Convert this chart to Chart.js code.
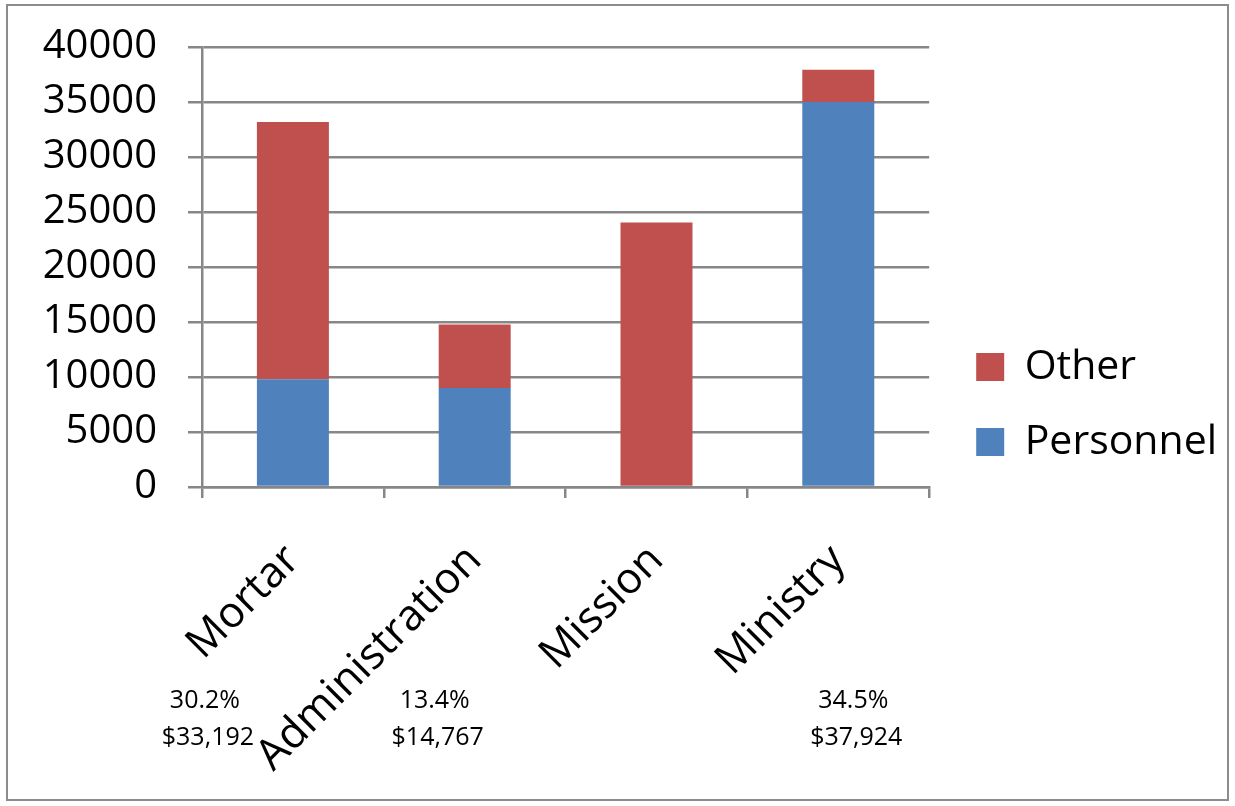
<!DOCTYPE html>
<html>
<head>
<meta charset="utf-8">
<script src="https://cdn.jsdelivr.net/npm/chart.js@4/dist/chart.umd.min.js"></script>
<style>
	body { margin: 0; background: #ffffff; }
	#wrap { width: 1235px; height: 806px; }
</style>
</head>
<body>
<div id="wrap"><canvas id="BudgetBar" width="1235" height="806"></canvas></div>
<script>
// categories and series
var categories = ['Mortar', 'Administration', 'Mission', 'Ministry'];
var personnel = [9800, 9000, 0, 35000];
var other = [23392, 5767, 24037, 2924];
var yTicks = [0, 5000, 10000, 15000, 20000, 25000, 30000, 35000, 40000];

// text notes under the categories
var notePct = ['30.2%', '13.4%', '', '34.5%'];
var noteAmt = ['$33,192', '$14,767', '', '$37,924'];

var gridColor = '#878787';
var fontName = "'Open Sans', 'Noto Sans', sans-serif";

// frame around the whole chart
var framePlugin = {
	id: 'frame',
	beforeDraw: function (chart) {
		var ctx = chart.ctx;
		ctx.save();
		ctx.fillStyle = '#ffffff';
		ctx.fillRect(0, 0, chart.width, chart.height);
		ctx.strokeStyle = '#8c8c8c';
		ctx.lineWidth = 2;
		ctx.strokeRect(7, 5, 1221, 795);
		ctx.restore();
	}
};

// move legend a bit right of the plot and up to the middle
var legendShift = {
	id: 'legendShift',
	afterLayout: function (chart) {
		chart.legend.left += 13;
		chart.legend.right += 13;
		chart.legend.top -= 22;
		chart.legend.bottom -= 22;
	}
};

// percentage and amount text below the labels
var notesPlugin = {
	id: 'notes',
	afterDraw: function (chart) {
		var ctx = chart.ctx;
		var xs = chart.scales.x;
		var shift = [-88, -40, 0, 15];
		ctx.save();
		ctx.fillStyle = '#000000';
		ctx.font = "25px " + fontName;
		ctx.textAlign = 'center';
		ctx.textBaseline = 'middle';
		for (var i = 0; i < categories.length; i++) {
			var x = xs.getPixelForValue(i) + shift[i];
			if (notePct[i]) ctx.fillText(notePct[i], x, 701);
			if (noteAmt[i]) ctx.fillText(noteAmt[i], x + 3, 738);
		}
		ctx.restore();
	}
};

var data = {
	labels: categories,
	datasets: [
		{
			label: 'Personnel',
			data: personnel,
			backgroundColor: '#4F81BD',
			stack: 'stack1'
		},
		{
			label: 'Other',
			data: other,
			backgroundColor: '#C0504D',
			stack: 'stack1'
		}
	]
};

var config = {
	type: 'bar',
	data: data,
	options: {
		responsive: false,
		animation: false,
		layout: {
			padding: { top: 47, right: 21, bottom: 0, left: 0 }
		},
		datasets: {
			bar: {
				categoryPercentage: 1,
				barPercentage: 0.396
			}
		},
		plugins: {
			tooltip: { enabled: false },
			legend: {
				position: 'right',
				reverse: true,
				labels: {
					boxWidth: 28,
					boxHeight: 28,
					padding: 34,
					color: '#000000',
					font: { family: fontName, size: 41 }
				}
			}
		},
		scales: {
			x: {
				stacked: true,
				afterFit: function (scale) { scale.height = 806 - 487; },
				grid: {
					drawOnChartArea: false,
					drawTicks: true,
					tickLength: 11,
					color: gridColor,
					lineWidth: 2.5
				},
				border: { display: true, color: gridColor, width: 2.5 },
				ticks: {
					minRotation: 45,
					maxRotation: 45,
					padding: 37,
					color: '#000000',
					font: { family: fontName, size: 43 }
				}
			},
			y: {
				stacked: true,
				min: 0,
				max: 40000,
				afterFit: function (scale) { scale.width = 202; },
				afterBuildTicks: function (scale) {
					scale.ticks = yTicks.map(function (v) { return { value: v }; });
				},
				grid: {
					color: gridColor,
					lineWidth: 2.5,
					tickLength: 14
				},
				border: { display: true, color: gridColor, width: 2.5 },
				ticks: {
					padding: 31,
					color: '#000000',
					font: { family: fontName, size: 40, lineHeight: 0.8 },
					callback: function (v) { return String(v); }
				}
			}
		}
	},
	plugins: [framePlugin, legendShift, notesPlugin]
};

var budgetChart = new Chart(document.getElementById('BudgetBar'), config);
</script>
</body>
</html>
